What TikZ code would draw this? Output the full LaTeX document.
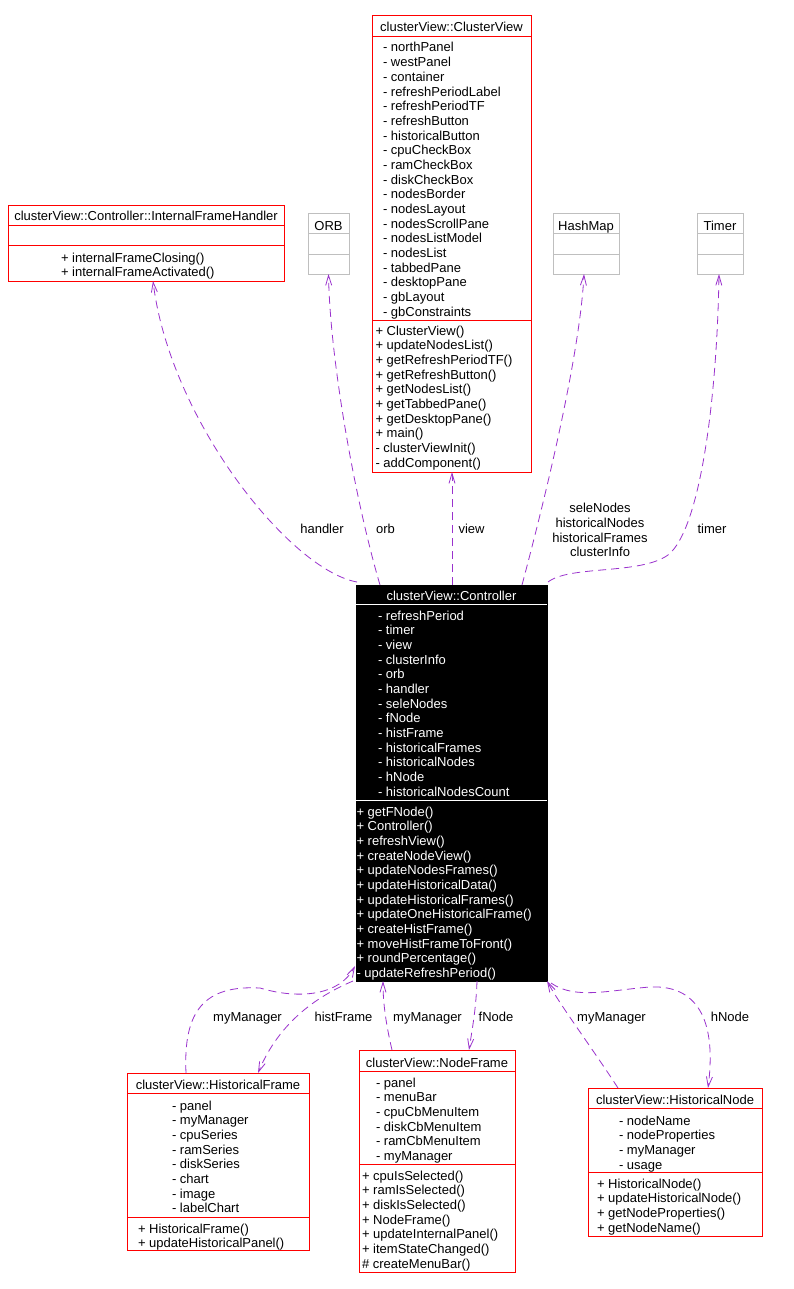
\documentclass[tikz,border=0pt]{standalone}
\usepackage{fontspec}
\setmainfont{Liberation Sans}
\usetikzlibrary{arrows.meta,calc}
\definecolor{edgec}{HTML}{9A32CD}
\definecolor{gline}{HTML}{BFBFBF}
\newcommand\umlmembers[4]{\foreach \mtext [count=\i from 0] in {#4} {\node[txt] (#1\i) at (#2,#3+\i*14.67) {\mtext};}}
\begin{document}
\begin{tikzpicture}[x=1pt,y=-1pt,
 txt/.style={font=\fontsize{13}{14.67}\selectfont, inner sep=0pt, outer sep=0pt, anchor=base west},
 ttl/.style={font=\fontsize{13}{14.67}\selectfont, inner sep=0pt, outer sep=0pt, anchor=base},
 cbox/.style={draw=red, line width=1pt, inner sep=0pt, outer sep=0pt, anchor=north west},
 gbox/.style={draw=gline, line width=1pt, inner sep=0pt, outer sep=0pt, anchor=north west},
 sepr/.style={draw=red, line width=1pt},
 sepg/.style={draw=gline, line width=1pt},
 sepw/.style={draw=white, line width=1pt},
 dep/.style={draw=edgec, line width=0.8pt, dash pattern=on 8pt off 5pt, -{Straight Barb[length=10pt,width=6pt]}},
 lbl/.style={font=\fontsize{13}{14.67}\selectfont, inner sep=0pt, outer sep=0pt, anchor=base, align=center}]
\useasboundingbox[fill=white] (0,0) rectangle (794,1289);

% ---------- InternalFrameHandler
\node[cbox, minimum width=276pt, minimum height=75pt] (ifh) at (8,206) {};
\draw[sepr] (8,226) -- (284,226);
\draw[sepr] (8,246) -- (284,246);
\node[ttl] (ifht) at (146,221) {clusterView::Controller::InternalFrameHandler};
\umlmembers{ifhm}{61}{262}{+ internalFrameClosing(), + internalFrameActivated()}

% ---------- ORB / HashMap / Timer
\node[gbox, minimum width=41pt, minimum height=60pt] (orb) at (308,214) {};
\draw[sepg] (308,234) -- (349,234);
\draw[sepg] (308,254) -- (349,254);
\node[ttl] (orbt) at (328.5,230) {ORB};

\node[gbox, minimum width=66pt, minimum height=60pt] (hm) at (553,214) {};
\draw[sepg] (553,234) -- (619,234);
\draw[sepg] (553,254) -- (619,254);
\node[ttl] (hmt) at (586,230) {HashMap};

\node[gbox, minimum width=46pt, minimum height=60pt] (tm) at (697,214) {};
\draw[sepg] (697,234) -- (743,234);
\draw[sepg] (697,254) -- (743,254);
\node[ttl] (tmt) at (720,230) {Timer};

% ---------- ClusterView
\node[cbox, minimum width=159pt, minimum height=456pt] (cv) at (372,16) {};
\draw[sepr] (372,36.5) -- (531,36.5);
\draw[sepr] (372,320.5) -- (531,320.5);
\node[ttl] (cvt) at (451.5,32) {clusterView::ClusterView};
\umlmembers{cva}{383}{52}{- northPanel, - westPanel, - container, - refreshPeriodLabel, - refreshPeriodTF, - refreshButton, - historicalButton, - cpuCheckBox, - ramCheckBox, - diskCheckBox, - nodesBorder, - nodesLayout, - nodesScrollPane, - nodesListModel, - nodesList, - tabbedPane, - desktopPane, - gbLayout, - gbConstraints}
\umlmembers{cvm}{375.5}{335}{+ ClusterView(), + updateNodesList(), + getRefreshPeriodTF(), + getRefreshButton(), + getNodesList(), + getTabbedPane(), + getDesktopPane(), + main(), - clusterViewInit(), - addComponent()}

% ---------- Controller
\node[draw=black, fill=black, line width=1pt, inner sep=0pt, outer sep=0pt, anchor=north west, minimum width=191pt, minimum height=396pt] (ctrl) at (356,585) {};
\draw[sepw] (356,604) -- (547,604);
\draw[sepw] (356,800) -- (547,800);
\begin{scope}[txt/.append style={text=white}, ttl/.append style={text=white}]
\node[ttl] (ctrlt) at (451.5,600) {clusterView::Controller};
\umlmembers{ctrla}{378}{620}{- refreshPeriod, - timer, - view, - clusterInfo, - orb, - handler, - seleNodes, - fNode, - histFrame, - historicalFrames, - historicalNodes, - hNode, - historicalNodesCount}
\umlmembers{ctrlm}{356.5}{816}{+ getFNode(), + Controller(), + refreshView(), + createNodeView(), + updateNodesFrames(), + updateHistoricalData(), + updateHistoricalFrames(), + updateOneHistoricalFrame(), + createHistFrame(), + moveHistFrameToFront(), + roundPercentage(), - updateRefreshPeriod()}
\end{scope}

% ---------- HistoricalFrame
\node[cbox, minimum width=182pt, minimum height=177pt] (hf) at (127,1073) {};
\draw[sepr] (127,1093) -- (309,1093);
\draw[sepr] (127,1217) -- (309,1217);
\node[ttl] (hft) at (218,1089) {clusterView::HistoricalFrame};
\umlmembers{hfa}{172}{1110}{- panel, - myManager, - cpuSeries, - ramSeries, - diskSeries, - chart, - image, - labelChart}
\umlmembers{hfm}{138}{1233}{+ HistoricalFrame(), + updateHistoricalPanel()}

% ---------- NodeFrame
\node[cbox, minimum width=156pt, minimum height=222pt] (nf) at (359,1050) {};
\draw[sepr] (359,1071) -- (515,1071);
\draw[sepr] (359,1164) -- (515,1164);
\node[ttl] (nft) at (437,1067) {clusterView::NodeFrame};
\umlmembers{nfa}{376}{1087}{- panel, - menuBar, - cpuCbMenuItem, - diskCbMenuItem, - ramCbMenuItem, - myManager}
\umlmembers{nfm}{362}{1180}{+ cpuIsSelected(), + ramIsSelected(), + diskIsSelected(), + NodeFrame(), + updateInternalPanel(), + itemStateChanged(), \# createMenuBar()}

% ---------- HistoricalNode
\node[cbox, minimum width=174pt, minimum height=148pt] (hn) at (588,1088) {};
\draw[sepr] (588,1108) -- (762,1108);
\draw[sepr] (588,1172) -- (762,1172);
\node[ttl] (hnt) at (675,1104) {clusterView::HistoricalNode};
\umlmembers{hna}{619}{1125}{- nodeName, - nodeProperties, - myManager, - usage}
\umlmembers{hnm}{597}{1188}{+ HistoricalNode(), + updateHistoricalNode(), + getNodeProperties(), + getNodeName()}

% ---------- connectors
\draw[dep] ($(ctrl.north west)+(1,-3)$) .. controls (290,570) and (170,420) .. ($(ifh.south)+(7,0)$);
\draw[dep] ($(ctrl.north west)+(24,0)$) .. controls (355,500) and (330,360) .. (orb.south);
\draw[dep] ($(ctrl.north west)+(96,0)$) -- ($(cv.south west)+(80,0)$);
\draw[dep] ($(ctrl.north west)+(166,0)$) .. controls (550,480) and (580,350) .. ($(hm.south)+(-2,0)$);
\draw[dep] ($(ctrl.north east)+(1,-3)$) .. controls (570,565) and (640,575) .. (668,555) .. controls (700,530) and (717,400) .. ($(tm.south)+(-1,0)$);

\draw[dep] ($(hf.north west)+(59,0)$) .. controls (183,1010) and (205,985) .. (260,988) .. controls (300,1000) and (340,995) .. ($(ctrl.south west)+(-1,-15)$);
\draw[dep] ($(ctrl.south west)+(-3,0)$) .. controls (320,995) and (280,1020) .. ($(hf.north west)+(131,0)$);
\draw[dep] ($(nf.north west)+(33,0)$) .. controls (385,1020) and (383,1000) .. ($(ctrl.south west)+(27,0)$);
\draw[dep] ($(ctrl.south west)+(121,0)$) .. controls (476,1010) and (472,1030) .. ($(nf.north west)+(110,0)$);
\draw[dep] ($(hn.north west)+(30,0)$) .. controls (590,1045) and (560,1005) .. (ctrl.south east);
\draw[dep] ($(ctrl.south east)+(4,2)$) .. controls (575,1000) and (610,990) .. (650,987) .. controls (690,985) and (718,1010) .. ($(hn.north west)+(120,0)$);

% ---------- labels
\node[lbl] (lhandler) at (322,533) {handler};
\node[lbl] (lorb) at (385.5,533) {orb};
\node[lbl] (lview) at (471.5,533) {view};
\node[lbl, anchor=north] (lhm) at (600,503.5) {seleNodes\\historicalNodes\\historicalFrames\\clusterInfo};
\node[lbl] (ltimer) at (712,533) {timer};
\node[lbl] (lmm1) at (247.5,1021) {myManager};
\node[lbl] (lhist) at (343.5,1021) {histFrame};
\node[lbl] (lmm2) at (427.5,1021) {myManager};
\node[lbl] (lfnode) at (496,1021) {fNode};
\node[lbl] (lmm3) at (611.5,1021) {myManager};
\node[lbl] (lhnode) at (730,1021) {hNode};
\end{tikzpicture}
\end{document}
